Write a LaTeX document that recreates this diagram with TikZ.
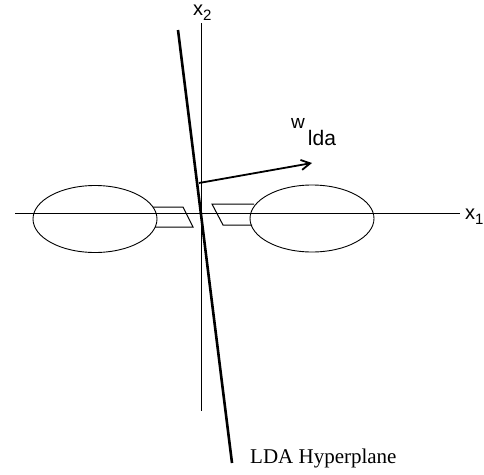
\documentclass[tikz,border=0pt]{standalone}
\usepackage{fontspec}
\setmainfont{Liberation Serif}
\setsansfont{Liberation Sans}
\usetikzlibrary{shapes.geometric,arrows.meta}

\begin{document}
\begin{tikzpicture}[x=1pt, y=-1pt,
  axis/.style={line width=0.9pt},
  blob/.style={draw, ellipse, line width=0.9pt, minimum width=124pt, minimum height=67pt, inner sep=0pt},
  patch/.style={line width=1pt},
  plane/.style={line width=2.6pt},
  wvec/.style={line width=1.8pt, -{Straight Barb[length=9pt,width=10pt]}},
  axlbl/.style={font=\sffamily\fontsize{20}{22}\selectfont, inner sep=0pt, anchor=base west},
  txt/.style={font=\fontsize{21}{24}\selectfont, inner sep=0pt, anchor=base west}
]
  \useasboundingbox (0,0) rectangle (484,474);

  % axes
  \coordinate (xl) at (15,213);
  \coordinate (xr) at (460,213);
  \coordinate (yt) at (201,23);
  \coordinate (yb) at (201,411);
  \draw[axis] (xl) -- (xr);
  \draw[axis] (yt) -- (yb);
  \node[axlbl] (x1lab) at (465,219) {x\raisebox{-5pt}{\fontsize{15}{15}\selectfont 1}};
  \node[axlbl] (x2lab) at (193,15) {x\raisebox{-5pt}{\fontsize{15}{15}\selectfont 2}};

  % the two classes
  \node[blob] (cl) at (95,219) {};
  \node[blob] (cr) at (312,218.5) {};
  \draw[patch] (153,207) -- (183,207) -- (193,227) -- (155,227);
  \draw[patch] (254,204) -- (212,204) -- (223,225) -- (252,225);

  % hyperplane and projection direction
  \coordinate (ht) at (178,30);
  \coordinate (hb) at (232,463);
  \draw[plane] (ht) -- (hb);
  \coordinate (ws) at (199,183);
  \coordinate (we) at (312,163);
  \draw[wvec] (ws) -- (we);
  \node[font=\sffamily, inner sep=0pt, anchor=base west] (wlab) at (291,128)
    {\fontsize{19}{19}\selectfont w\hspace{3pt}\raisebox{-17pt}{\fontsize{21}{21}\selectfont lda}};
  \node[txt] (hlab) at (250,463) {LDA Hyperplane};
\end{tikzpicture}
\end{document}
